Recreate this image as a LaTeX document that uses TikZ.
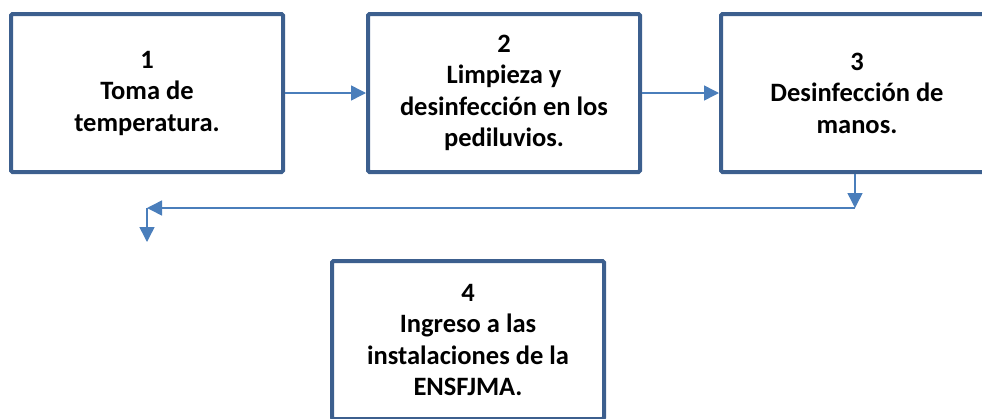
\documentclass[tikz,border=0pt]{standalone}
\usepackage{fontspec}
\setmainfont{Carlito}
\usetikzlibrary{arrows.meta}

\definecolor{boxblue}{HTML}{3C5F8E}
\definecolor{arrowblue}{HTML}{4A7EBB}

\begin{document}
\begin{tikzpicture}
  [x=1pt,y=-1pt,
   stepbox/.style={draw=boxblue,line width=4pt,rounded corners=1.5pt,
     minimum width=272pt,minimum height=158pt,align=center,
     font=\fontsize{26.5}{31.5}\selectfont\bfseries},
   flow/.style={draw=arrowblue,line width=1.5pt,
     -{Triangle[length=15pt,width=15pt]}}]
  \useasboundingbox (0,0) rectangle (982,418);

  \node[stepbox] (b1) at (147,93) {1\\Toma de\\temperatura.};
  \node[stepbox] (b2) at (504,93) {2\\Limpieza y\\desinfección en los\\pediluvios.};
  \node[stepbox] (b3) at (857,93) {3\\Desinfección de\\manos.};
  \node[stepbox] (b4) at (468,340) {4\\Ingreso a las\\instalaciones de la\\ENSFJMA.};

  \coordinate (turn) at (855,208);
  \coordinate (corner) at (147,208);
  \coordinate (down) at (147,242);

  \draw[flow] (b1.east) -- (b2.west);
  \draw[flow] (b2.east) -- (b3.west);
  \draw[flow] (b3.south -| turn) -- (turn);
  \draw[flow] (turn) -- (corner);
  \draw[flow] (corner) -- (down);

\end{tikzpicture}
\end{document}
